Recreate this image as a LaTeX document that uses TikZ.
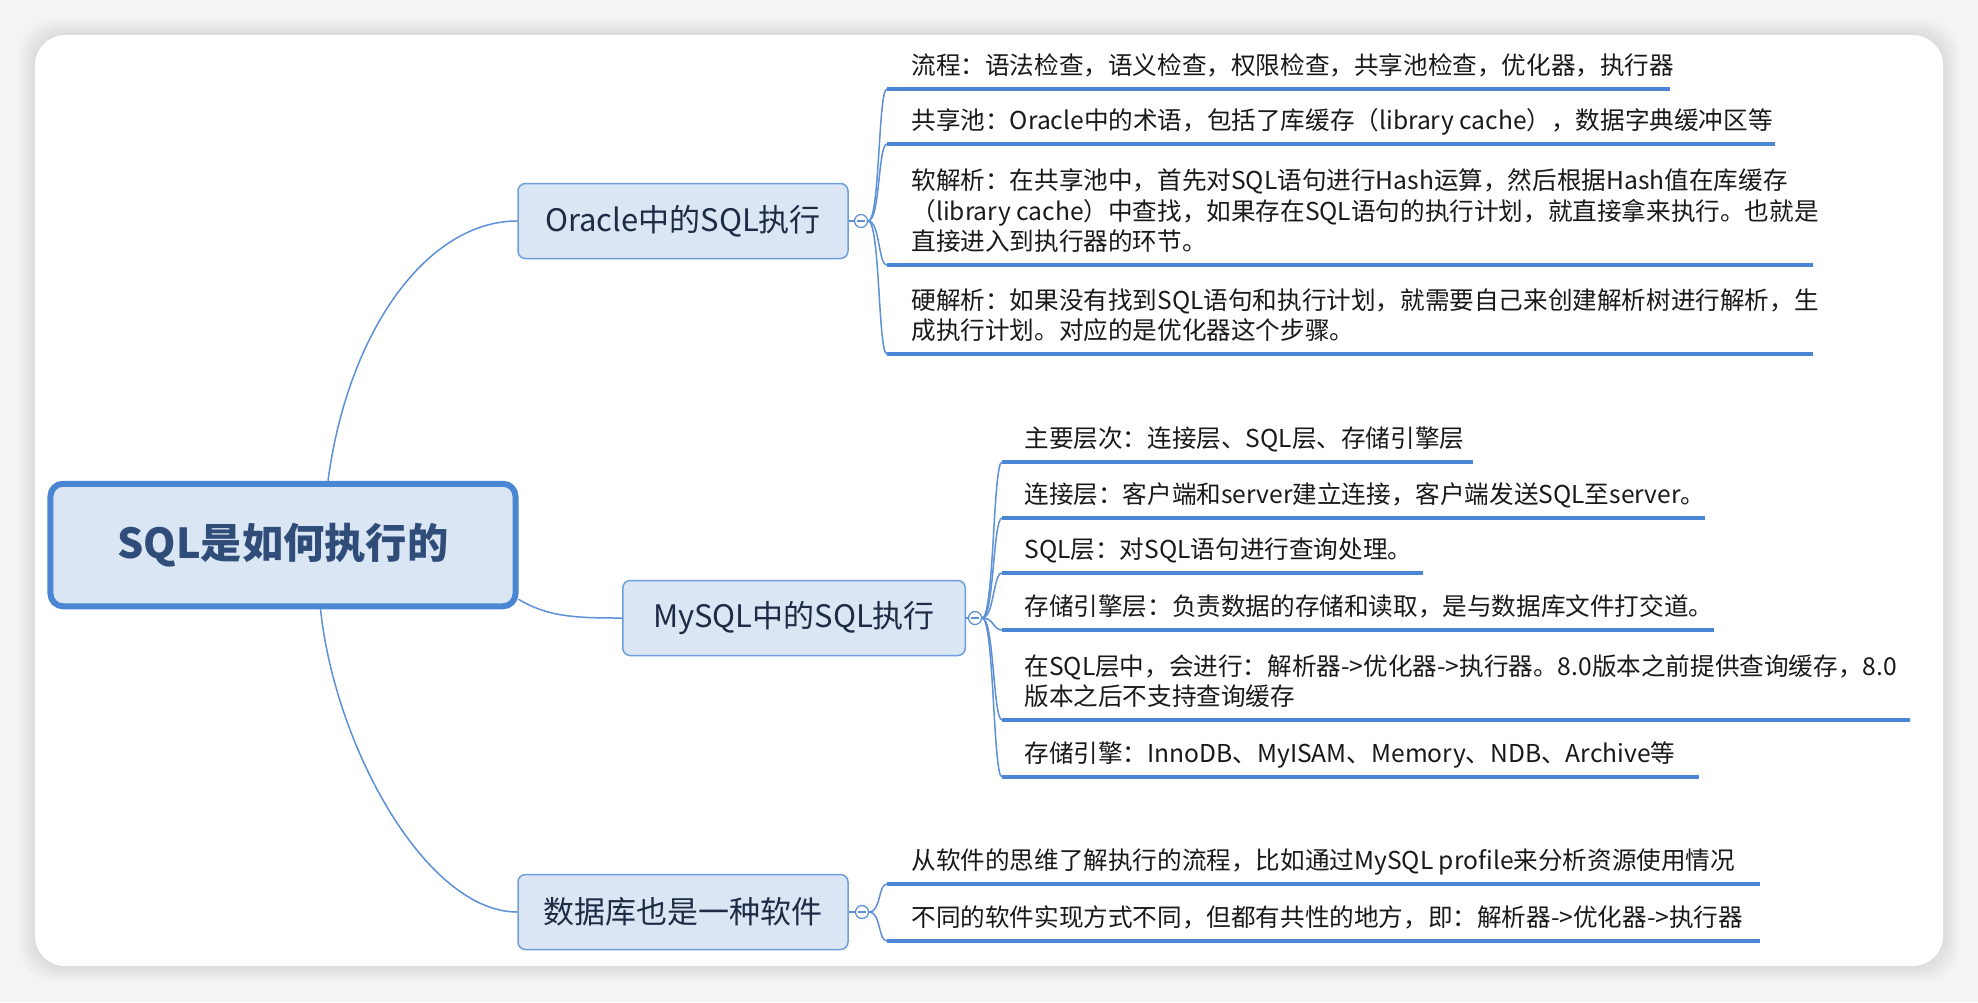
\documentclass[tikz,border=0pt]{standalone}
\usepackage{fontspec}
\setmainfont{Noto Sans CJK SC}
\usepackage{xcolor}

\definecolor{mmblue}{HTML}{4A86D4}
\definecolor{linkblue}{HTML}{5D90D6}
\definecolor{boxfill}{HTML}{DBE6F4}
\definecolor{boxline}{HTML}{6E9EDB}
\definecolor{roottext}{HTML}{2F4D78}
\definecolor{branchtext}{HTML}{1E2B45}
\definecolor{pagebg}{HTML}{F4F4F4}

\begin{document}
\begin{tikzpicture}[
	x=0.4pt, y=-0.4pt,
	root/.style={rounded corners=5pt, rectangle, draw=mmblue, line width=2.4pt, fill=boxfill, minimum width=186pt, minimum height=49pt, font=\fontsize{16.5}{20}\selectfont\bfseries, text=roottext},
	branch/.style={rounded corners=3pt, rectangle, draw=boxline, line width=0.6pt, fill=boxfill, minimum height=30pt, font=\fontsize{12.4}{15}\selectfont, text=branchtext},
	fold/.style={circle, draw=linkblue, line width=0.5pt, fill=white, minimum size=5.2pt, inner sep=0pt},
	leaf/.style={anchor=south west, inner xsep=0pt, inner ysep=4.8pt, text depth=0.8pt, align=left, font=\fontsize{9.84}{12.2}\selectfont, text=black!90},
	uline/.style={draw=mmblue, line width=1.6pt},
	link/.style={draw=linkblue, line width=0.6pt},
	]

	\useasboundingbox (0,0) rectangle (1978,1002);
	\fill[pagebg] (0,0) rectangle (1978,1002);
	\foreach \d in {2,4,...,16}
		\fill[black, opacity=0.012, rounded corners=14pt] (35-\d,35-\d) rectangle (1943+\d,966+\d);
	\fill[white, rounded corners=12pt] (35,35) rectangle (1943,966);

	\node[root] (root) at (283,545) {SQL是如何执行的};
	\node[branch, minimum width=132pt] (oracle) at (683,221) {Oracle中的SQL执行};
	\node[branch, minimum width=137pt] (mysql) at (794,618) {MySQL中的SQL执行};
	\node[branch, minimum width=132pt] (soft) at (683,912) {数据库也是一种软件};

	\draw[link] ([xshift=18pt]root.north) .. controls +(20,-150) and +(-90,0) .. (oracle.west);
	\draw[link] ([yshift=4pt]root.south east) .. controls +(30,18) and +(-45,0) .. (mysql.west);
	\draw[link] ([xshift=15pt]root.south) .. controls +(15,140) and +(-90,0) .. (soft.west);

	% Oracle
	\node[fold] (oracle fold) at (861,221) {};
	\draw[link] (oracle.east) -- (oracle fold.west);
	\draw[link] ([xshift=-1.6pt]oracle fold.center) -- ([xshift=1.6pt]oracle fold.center);

	\node[leaf] (o1) at (911,89) {流程：语法检查，语义检查，权限检查，共享池检查，优化器，执行器};
	\node[leaf] (o2) at (911,144) {共享池：Oracle中的术语，包括了库缓存（library~cache），数据字典缓冲区等};
	\node[leaf] (o3) at (911,265) {软解析：在共享池中，首先对SQL语句进行Hash运算，然后根据Hash值在库缓存\\（library cache）中查找，如果存在SQL语句的执行计划，就直接拿来执行。也就是\\直接进入到执行器的环节。};
	\node[leaf] (o4) at (911,354) {硬解析：如果没有找到SQL语句和执行计划，就需要自己来创建解析树进行解析，生\\成执行计划。对应的是优化器这个步骤。};

	\draw[uline] ([xshift=-9.6pt]o1.south west) -- ++(783,0);
	\draw[uline] ([xshift=-9.6pt]o2.south west) -- ++(888,0);
	\draw[uline] ([xshift=-9.6pt]o3.south west) -- ++(926,0);
	\draw[uline] ([xshift=-9.6pt]o4.south west) -- ++(926,0);

	\draw[link] (oracle fold.east) .. controls +(12,0) and +(-9,0) .. ([xshift=-9.6pt]o1.south west);
	\draw[link] (oracle fold.east) .. controls +(12,0) and +(-9,0) .. ([xshift=-9.6pt]o2.south west);
	\draw[link] (oracle fold.east) .. controls +(12,0) and +(-9,0) .. ([xshift=-9.6pt]o3.south west);
	\draw[link] (oracle fold.east) .. controls +(12,0) and +(-9,0) .. ([xshift=-9.6pt]o4.south west);

	% MySQL
	\node[fold] (mysql fold) at (975,618) {};
	\draw[link] (mysql.east) -- (mysql fold.west);
	\draw[link] ([xshift=-1.6pt]mysql fold.center) -- ([xshift=1.6pt]mysql fold.center);

	\node[leaf] (m1) at (1024,462) {主要层次：连接层、SQL层、存储引擎层};
	\node[leaf] (m2) at (1024,518) {连接层：客户端和server建立连接，客户端发送SQL至server。};
	\node[leaf] (m3) at (1024,573) {SQL层：对SQL语句进行查询处理。};
	\node[leaf] (m4) at (1024,630) {存储引擎层：负责数据的存储和读取，是与数据库文件打交道。};
	\node[leaf] (m5) at (1024,720) {在SQL层中，会进行：解析器->优化器->执行器。8.0版本之前提供查询缓存，8.0\\版本之后不支持查询缓存};
	\node[leaf] (m6) at (1024,777) {存储引擎：InnoDB、MyISAM、Memory、NDB、Archive等};

	\draw[uline] ([xshift=-8.8pt]m1.south west) -- ++(471,0);
	\draw[uline] ([xshift=-8.8pt]m2.south west) -- ++(703,0);
	\draw[uline] ([xshift=-8.8pt]m3.south west) -- ++(421,0);
	\draw[uline] ([xshift=-8.8pt]m4.south west) -- ++(712,0);
	\draw[uline] ([xshift=-8.8pt]m5.south west) -- ++(908,0);
	\draw[uline] ([xshift=-8.8pt]m6.south west) -- ++(697,0);

	\draw[link] (mysql fold.east) .. controls +(12,0) and +(-9,0) .. ([xshift=-8.8pt]m1.south west);
	\draw[link] (mysql fold.east) .. controls +(12,0) and +(-9,0) .. ([xshift=-8.8pt]m2.south west);
	\draw[link] (mysql fold.east) .. controls +(12,0) and +(-9,0) .. ([xshift=-8.8pt]m3.south west);
	\draw[link] (mysql fold.east) .. controls +(12,0) and +(-9,0) .. ([xshift=-8.8pt]m4.south west);
	\draw[link] (mysql fold.east) .. controls +(12,0) and +(-9,0) .. ([xshift=-8.8pt]m5.south west);
	\draw[link] (mysql fold.east) .. controls +(12,0) and +(-9,0) .. ([xshift=-8.8pt]m6.south west);

	% software
	\node[fold] (soft fold) at (862,912) {};
	\draw[link] (soft.east) -- (soft fold.west);
	\draw[link] ([xshift=-1.6pt]soft fold.center) -- ([xshift=1.6pt]soft fold.center);

	\node[leaf] (s1) at (911,884) {从软件的思维了解执行的流程，比如通过MySQL~profile来分析资源使用情况};
	\node[leaf] (s2) at (911,941) {不同的软件实现方式不同，但都有共性的地方，即：解析器->优化器->执行器};

	\draw[uline] ([xshift=-9.6pt]s1.south west) -- ++(873,0);
	\draw[uline] ([xshift=-9.6pt]s2.south west) -- ++(873,0);

	\draw[link] (soft fold.east) .. controls +(12,0) and +(-9,0) .. ([xshift=-9.6pt]s1.south west);
	\draw[link] (soft fold.east) .. controls +(12,0) and +(-9,0) .. ([xshift=-9.6pt]s2.south west);

\end{tikzpicture}
\end{document}
